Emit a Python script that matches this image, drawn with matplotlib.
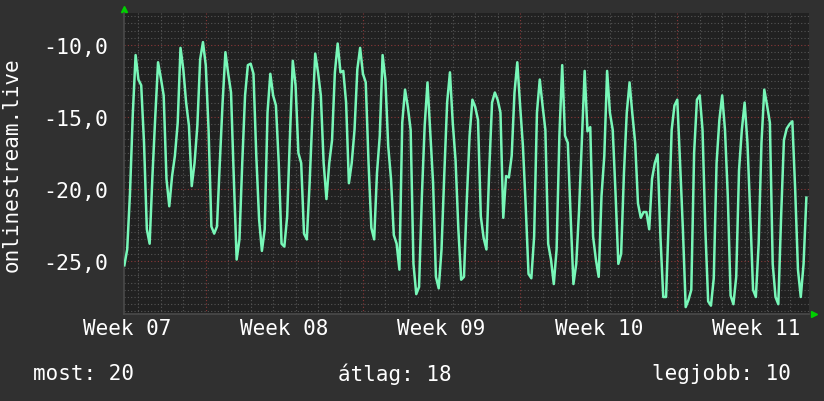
import numpy as np
import matplotlib
matplotlib.use("Agg")
import matplotlib.pyplot as plt

# --- Daten: ein Wert alle 3 Stunden, Stunde 0 = Montag Woche 08 ---
start_hour = -87
step_hours = 3
values = [
    -25.3, -24.2, -20.3, -14.8, -10.7, -12.4, -12.8, -16.8, -22.8, -23.8,
    -19.1, -15.0, -11.2, -12.3, -13.5, -19.3, -21.2, -19.1, -17.7, -15.4,
    -10.2, -11.7, -14.0, -15.6, -19.8, -18.2, -15.6, -11.0, -9.8, -11.4,
    -15.9, -22.6, -23.1, -22.6, -18.2, -14.0, -10.5, -12.0, -13.3, -19.3,
    -24.9, -23.5, -18.2, -13.5, -11.4, -11.3, -12.0, -17.7, -22.1, -24.3,
    -22.8, -14.7, -12.0, -13.5, -14.2, -18.2, -23.8, -24.0, -21.9, -16.3,
    -11.1, -12.8, -17.5, -18.2, -23.1, -23.5, -19.6, -14.9, -10.6, -11.9,
    -13.5, -18.2, -20.7, -18.2, -16.6, -11.9, -9.9, -11.9, -11.8, -14.0,
    -19.6, -18.2, -15.9, -11.7, -10.2, -12.0, -12.6, -18.2, -22.7, -23.5,
    -18.9, -16.3, -10.7, -12.4, -17.0, -19.3, -23.2, -23.8, -25.6, -15.4,
    -13.1, -14.3, -15.9, -25.2, -27.3, -26.8, -20.5, -15.6, -12.6, -16.1,
    -19.6, -26.1, -26.9, -24.2, -18.9, -14.0, -11.9, -15.4, -18.0, -22.8,
    -26.3, -26.1, -20.8, -16.3, -13.8, -14.3, -15.2, -21.9, -23.4, -24.2,
    -18.7, -14.0, -13.3, -13.8, -14.7, -22.0, -19.1, -19.2, -17.7, -13.3,
    -11.2, -14.2, -17.0, -21.2, -25.9, -26.2, -23.3, -14.7, -12.4, -14.2,
    -15.9, -23.8, -24.9, -26.6, -24.2, -16.3, -11.4, -16.3, -16.8, -21.9,
    -26.6, -25.2, -21.5, -16.6, -11.8, -16.0, -15.7, -23.3, -24.9, -26.1,
    -20.5, -17.7, -11.8, -14.7, -15.9, -20.3, -25.2, -24.5, -18.9, -14.7,
    -12.6, -14.8, -16.8, -21.0, -22.0, -21.6, -21.6, -22.8, -19.3, -18.2,
    -17.6, -23.3, -27.5, -27.5, -21.9, -15.9, -14.2, -13.8, -18.2, -22.8,
    -28.2, -27.7, -27.0, -17.5, -13.8, -13.5, -15.9, -22.8, -27.8, -28.1,
    -26.2, -18.2, -15.2, -13.5, -15.9, -20.5, -27.4, -28.0, -26.1, -18.7,
    -15.9, -14.0, -16.8, -21.7, -27.0, -27.5, -23.8, -16.8, -13.1, -14.2,
    -15.4, -25.2, -27.5, -28.0, -21.9, -16.6, -15.8, -15.5, -15.3, -20.0,
    -25.6, -27.5, -25.2, -20.6,
]
hours = start_hour + step_hours * np.arange(len(values))

week_labels = ["Week 07", "Week 08", "Week 09", "Week 10", "Week 11"]
week_label_hours = [-84, 84, 252, 420, 588]
y_ticks = [-25.0, -20.0, -15.0, -10.0]
legend_texts = ["most: 20", "átlag: 18", "legjobb: 10"]

bg = "#303030"
plot_bg = "#212121"
line_color = "#78f7b8"
minor_color = "#555555"
major_color = "#8a3838"
mono = "DejaVu Sans Mono"

fig = plt.figure(figsize=(8.24, 4.02), dpi=100, facecolor=bg)
ax = fig.add_axes([124 / 824, 1 - 315 / 402, 685 / 824, 301 / 402])
ax.set_facecolor(plot_bg)

x_min, x_max = -87.4, 644.8
y_min, y_max = -28.68, -7.78
ax.set_xlim(x_min, x_max)
ax.set_ylim(y_min, y_max)

# --- Gitter wie bei rrdtool ---
dots = (0, (1, 2))
for h in range(-72, int(x_max) + 1, 24):
    is_week = h % 168 == 0
    ax.axvline(h, color=major_color if is_week else minor_color,
               lw=0.8, ls=dots, zorder=1)
for v in np.arange(-28.5, y_max, 0.5):
    is_major = abs(v % 5) < 1e-9
    ax.axhline(v, color=major_color if is_major else minor_color,
               lw=0.8, ls=dots, zorder=1)

# --- Messkurve ---
ax.plot(hours, values, color=line_color, lw=1.8, zorder=3)

# --- Achsen ---
for side in ["top", "right"]:
    ax.spines[side].set_visible(False)
for side in ["bottom", "left"]:
    ax.spines[side].set_color("#4a4a4a")
    ax.spines[side].set_linewidth(1.2)

ax.set_yticks(y_ticks, [f"{t:.1f}".replace(".", ",") for t in y_ticks])
ax.set_xticks(week_label_hours, week_labels)
ax.tick_params(axis="y", length=0, pad=11.5, colors="white", labelsize=15.5)
ax.tick_params(axis="x", length=0, pad=3, colors="white", labelsize=15)
for lab in ax.get_xticklabels() + ax.get_yticklabels():
    lab.set_family(mono)

# kleine grüne Pfeile an den Achsenenden
ax.plot([0], [1.012], marker="^", color="#00d000", ms=5,
        transform=ax.transAxes, clip_on=False)
ax.plot([1.007], [0], marker=">", color="#00d000", ms=5,
        transform=ax.transAxes, clip_on=False)

fig.text(12 / 824, 1 - 165 / 402, "onlinestream.live", rotation=90,
         ha="center", va="center", color="white", fontsize=15, family=mono)

# --- Legende unten ---
y_leg = 1 - 374 / 402
fig.text(33 / 824, y_leg, legend_texts[0], ha="left", va="center",
         color="white", fontsize=15, family=mono)
fig.text(395 / 824, y_leg, legend_texts[1], ha="center", va="center",
         color="white", fontsize=15, family=mono)
fig.text(791 / 824, y_leg, legend_texts[2], ha="right", va="center",
         color="white", fontsize=15, family=mono)

fig.savefig("out.png", dpi=100, facecolor=bg)
